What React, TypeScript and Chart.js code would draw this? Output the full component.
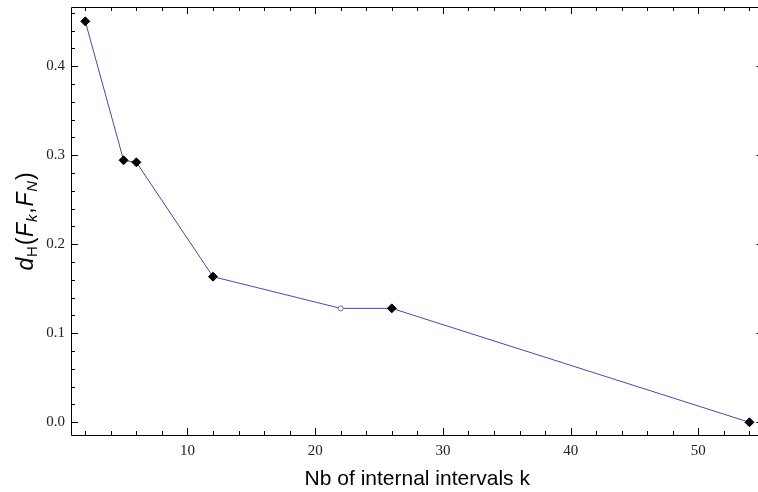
import React, { useEffect, useRef } from "react";
import { Chart, registerables } from "chart.js";

Chart.register(...registerables);

const kValues: number[] = [2, 5, 6, 12, 22, 26, 54];
const distValues: number[] = [0.4505, 0.2944, 0.2921, 0.1636, 0.128, 0.128, 0.0];
const markerStyles: string[] = ["rectRot", "rectRot", "rectRot", "rectRot", "circle", "rectRot", "rectRot"];
const xTickLabels: number[] = [10, 20, 30, 40, 50];
const yTickLabels: number[] = [0.0, 0.1, 0.2, 0.3, 0.4];
const xTitle = "Nb of internal intervals k";

const X_MIN = 0.883;
const X_MAX = 55.1;
const Y_MIN = -0.01427;
const Y_MAX = 0.4666;

const framePlugin = {
  id: "frameTicks",
  afterDraw(chart: any) {
    const { ctx, chartArea } = chart;
    const xs = chart.scales.x;
    const ys = chart.scales.y;
    const { left, right, top, bottom } = chartArea;
    ctx.save();
    ctx.strokeStyle = "#000";
    ctx.lineWidth = 1;
    ctx.beginPath();
    ctx.moveTo(left + 0.5, top + 0.5);
    ctx.lineTo(right + 0.5, top + 0.5);
    ctx.lineTo(right + 0.5, bottom + 0.5);
    ctx.lineTo(left + 0.5, bottom + 0.5);
    ctx.closePath();
    ctx.stroke();
    ctx.beginPath();
    for (let v = 2; v <= 54; v += 2) {
      const px = Math.round(xs.getPixelForValue(v)) + 0.5;
      const len = v % 10 === 0 ? 7 : 4;
      ctx.moveTo(px, bottom);
      ctx.lineTo(px, bottom - len);
      ctx.moveTo(px, top);
      ctx.lineTo(px, top + len);
    }
    for (let i = 0; i <= 23; i++) {
      const v = i * 0.02;
      const py = Math.round(ys.getPixelForValue(v)) + 0.5;
      const len = i % 5 === 0 ? 7 : 4;
      ctx.moveTo(left, py);
      ctx.lineTo(left + len, py);
      ctx.moveTo(right, py);
      ctx.lineTo(right - len, py);
    }
    ctx.stroke();

    const parts: { t: string; italic: boolean; sub: boolean }[] = [
      { t: "d", italic: true, sub: false },
      { t: "H", italic: false, sub: true },
      { t: "(", italic: false, sub: false },
      { t: "F", italic: true, sub: false },
      { t: "k", italic: true, sub: true },
      { t: ",", italic: false, sub: false },
      { t: "F", italic: true, sub: false },
      { t: "N", italic: true, sub: true },
      { t: ")", italic: false, sub: false },
    ];
    const gap = 0.8;
    const fontFor = (p: any) =>
      `${p.italic ? "italic " : ""}${p.sub ? 15 : 23}px "Liberation Sans", Arial, sans-serif`;
    let total = 0;
    for (const p of parts) {
      ctx.font = fontFor(p);
      total += ctx.measureText(p.t).width + gap;
    }
    total -= gap;
    ctx.translate(33, 221.5);
    ctx.rotate(-Math.PI / 2);
    ctx.fillStyle = "#000";
    ctx.textBaseline = "alphabetic";
    ctx.textAlign = "left";
    let x = -total / 2;
    for (const p of parts) {
      ctx.font = fontFor(p);
      ctx.fillText(p.t, x, p.sub ? 4 : 0);
      x += ctx.measureText(p.t).width + gap;
    }
    ctx.restore();
  },
};

export default function App() {
  const ref = useRef<HTMLCanvasElement | null>(null);
  useEffect(() => {
    if (!ref.current) return;
    const points = kValues.map((k, i) => ({ x: k, y: distValues[i] }));
    const chart = new Chart(ref.current, {
      type: "line",
      data: {
        datasets: [
          {
            data: points,
            borderColor: "#4848b4",
            borderWidth: 1,
            pointStyle: markerStyles as any,
            pointRadius: markerStyles.map((s) => (s === "circle" ? 2.5 : 4.5)),
            pointBackgroundColor: markerStyles.map((s) => (s === "circle" ? "#fff" : "#000")),
            pointBorderColor: markerStyles.map((s) => (s === "circle" ? "#777" : "#000")),
            pointBorderWidth: 1,
            tension: 0,
          },
        ],
      },
      options: {
        animation: false,
        responsive: false,
        maintainAspectRatio: false,
        layout: { padding: { left: 0, top: 7, right: 4, bottom: 0 } },
        plugins: { legend: { display: false }, tooltip: { enabled: false } },
        scales: {
          x: {
            type: "linear",
            min: X_MIN,
            max: X_MAX,
            grid: { display: false, drawTicks: false },
            border: { display: false },
            afterBuildTicks: (s: any) => {
              s.ticks = xTickLabels.map((v) => ({ value: v }));
            },
            afterFit: (s: any) => {
              s.height = 57;
              s.paddingLeft = 0;
              s.paddingRight = 0;
            },
            ticks: {
              padding: 7,
              color: "#222",
              maxRotation: 0,
              autoSkip: false,
              font: { family: '"Liberation Serif", "Times New Roman", serif', size: 15 },
              callback: (v: any) => String(v),
            },
            title: {
              display: true,
              text: xTitle,
              color: "#000",
              font: { family: '"Liberation Sans", Arial, sans-serif', size: 21 },
              padding: { top: 0, bottom: 0 },
            },
          },
          y: {
            type: "linear",
            min: Y_MIN,
            max: Y_MAX,
            grid: { display: false, drawTicks: false },
            border: { display: false },
            afterBuildTicks: (s: any) => {
              s.ticks = yTickLabels.map((v) => ({ value: v }));
            },
            afterFit: (s: any) => {
              s.width = 71;
              s.paddingTop = 0;
              s.paddingBottom = 0;
            },
            ticks: {
              padding: 6,
              color: "#222",
              autoSkip: false,
              font: { family: '"Liberation Serif", "Times New Roman", serif', size: 15 },
              callback: (v: any) => Number(v).toFixed(1),
            },
          },
        },
      },
      plugins: [framePlugin],
    });
    return () => chart.destroy();
  }, []);
  return (
    <div style={{ position: "fixed", left: 0, top: 0, width: 758, height: 492, overflow: "hidden", background: "#fff" }}>
      <canvas ref={ref} width={769} height={492} style={{ width: 769, height: 492, display: "block" }} />
    </div>
  );
}
